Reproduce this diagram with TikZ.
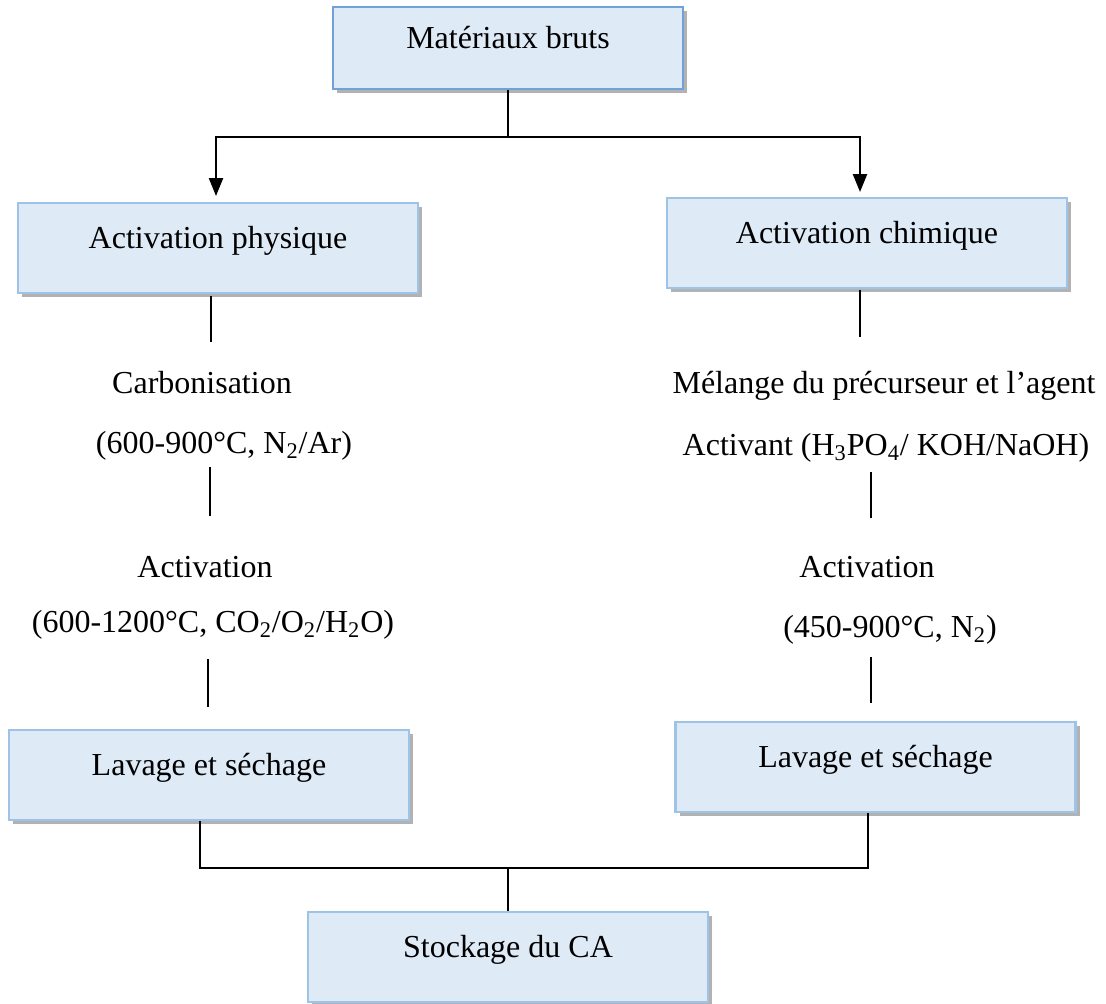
\documentclass[tikz,border=0pt]{standalone}
\usepackage{fontspec}
\setmainfont{Liberation Serif}
\usetikzlibrary{arrows.meta,shadows}
\definecolor{boxfill}{RGB}{222,234,246}
\definecolor{boxline}{RGB}{157,195,230}
\definecolor{boxlinetop}{RGB}{112,162,216}
\begin{document}
\begin{tikzpicture}[x=0.5pt,y=-0.5pt,
  every node/.style={font=\fontsize{16pt}{19pt}\selectfont},
  procbox/.style={draw=boxline, line width=1.4pt, fill=boxfill, inner sep=0pt,
    minimum width=200pt, text height=22.5pt, text depth=22.5pt, anchor=base,
    drop shadow={shadow xshift=2pt, shadow yshift=-2pt, fill=black, opacity=0.3}},
  lbl/.style={anchor=base, inner sep=0pt},
  conn/.style={line width=1.2pt, black},
  arr/.style={conn, -{Triangle[width=7pt,length=9pt]}}]
\useasboundingbox (0,0) rectangle (1106,1003);

% boxes
\node[procbox, draw=boxlinetop, minimum width=175pt, text height=20.5pt, text depth=20.5pt] (b1) at (508,48) {Matériaux bruts};
\node[procbox] (b2) at (218,248) {Activation physique};
\node[procbox] (b3) at (867,243) {Activation chimique};
\node[procbox] (b4) at (209,775) {Lavage et séchage};
\node[procbox] (b5) at (875.5,767) {Lavage et séchage};
\node[procbox] (b6) at (508,957) {Stockage du CA};

% text steps, left
\node[lbl] (l1) at (202,393) {Carbonisation};
\node[lbl] (l2) at (224,453) {(600-900°C, N\textsubscript{2}/Ar)};
\node[lbl] (l3) at (205,577) {Activation};
\node[lbl] (l4) at (213,632) {(600-1200°C, CO\textsubscript{2}/O\textsubscript{2}/H\textsubscript{2}O)};
% text steps, right
\node[lbl] (r1) at (884,393) {Mélange du précurseur et l’agent};
\node[lbl] (r2) at (886,455) {Activant (H\textsubscript{3}PO\textsubscript{4}/ KOH/NaOH)};
\node[lbl] (r3) at (867,577) {Activation};
\node[lbl] (r4) at (890,637) {(450-900°C, N\textsubscript{2})};

% junctions and free ends
\coordinate (j1) at (508,137);
\coordinate (a2) at (216,196);
\coordinate (a3) at (860,192);
\coordinate (l0a) at (211,296); \coordinate (l0b) at (211,342);
\coordinate (l1a) at (210,467); \coordinate (l1b) at (210,516);
\coordinate (l2a) at (208,659); \coordinate (l2b) at (208,707);
\coordinate (r0a) at (860,290); \coordinate (r0b) at (860,337);
\coordinate (r1a) at (871,472); \coordinate (r1b) at (871,518);
\coordinate (r2a) at (871,657); \coordinate (r2b) at (871,703);
\coordinate (j4) at (200,868);
\coordinate (j5) at (868,868);
\coordinate (j6) at (508,868);

% connectors
\draw[conn] (b1.south) -- (j1);
\draw[arr] (j1) -| (a2);
\draw[arr] (j1) -| (a3);
\draw[conn] (l0a) -- (l0b);
\draw[conn] (l1a) -- (l1b);
\draw[conn] (l2a) -- (l2b);
\draw[conn] (r0a) -- (r0b);
\draw[conn] (r1a) -- (r1b);
\draw[conn] (r2a) -- (r2b);
\draw[conn] (b4.south -| j4) -- (j4) -- (j5) -- (b5.south -| j5);
\draw[conn] (j6) -- (b6.north);
\end{tikzpicture}
\end{document}
